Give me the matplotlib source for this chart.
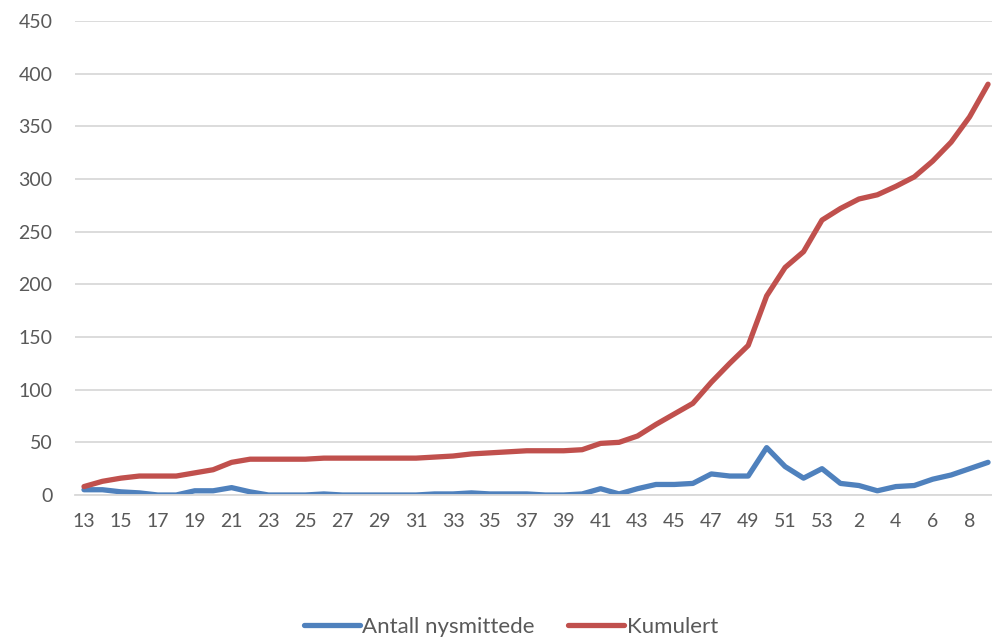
import matplotlib.pyplot as plt
import numpy as np

# weeks 13..53 (2020) then 1..9 (2021)
weeks = list(range(13, 54)) + list(range(1, 10))

nye = [5, 5, 3, 2, 0, 0, 4, 4, 7, 3,
       0, 0, 0, 1, 0, 0, 0, 0, 0, 1,
       1, 2, 1, 1, 1, 0, 0, 1, 6, 1,
       6, 10, 10, 11, 20, 18, 18, 45, 27, 16,
       25, 11, 9, 4, 8, 9, 15, 19, 25, 31]

kumulert = [8, 13, 16, 18, 18, 18, 21, 24, 31, 34,
            34, 34, 34, 35, 35, 35, 35, 35, 35, 36,
            37, 39, 40, 41, 42, 42, 42, 43, 49, 50,
            56, 67, 77, 87, 107, 125, 142, 189, 216, 231,
            261, 272, 281, 285, 293, 302, 317, 335, 359, 390]

plt.rcParams['font.family'] = ['Lato', 'DejaVu Sans']
grey = '#595959'

fig = plt.figure(figsize=(9.92, 6.37), dpi=100)
W, H = 992, 637
step = 18.45
left = 84 - step / 2
ax = fig.add_axes([left / W, 1 - 495 / H, 50 * step / W, 474 / H])

x = np.arange(len(weeks))
ax.plot(x, nye, color='#4F81BD', lw=3.8, solid_capstyle='round', solid_joinstyle='round', label='Antall nysmittede')
ax.plot(x, kumulert, color='#C0504D', lw=3.8, solid_capstyle='round', solid_joinstyle='round', label='Kumulert')

ax.set_xlim(-0.5, len(weeks) - 0.5)
ax.set_ylim(0, 450)
ax.set_yticks(range(0, 451, 50))
ax.set_xticks(x[::2])
ax.set_xticklabels([str(w) for w in weeks[::2]])
ax.tick_params(length=0, labelsize=14, colors=grey)
ax.tick_params(axis='y', pad=16)
ax.tick_params(axis='x', pad=13)
ax.grid(axis='y', color='#D9D9D9', lw=1.3)
ax.set_axisbelow(True)
for s in ['top', 'right', 'left']:
    ax.spines[s].set_visible(False)
ax.spines['bottom'].set_color('#D9D9D9')
ax.spines['bottom'].set_linewidth(1.3)

fig.legend(loc='center', bbox_to_anchor=(511 / W, 1 - 627 / H), ncol=2, frameon=False,
           fontsize=16, labelcolor=grey, handlelength=2.5, handletextpad=0.12,
           columnspacing=1.5)

fig.savefig('out.png', dpi=100)
